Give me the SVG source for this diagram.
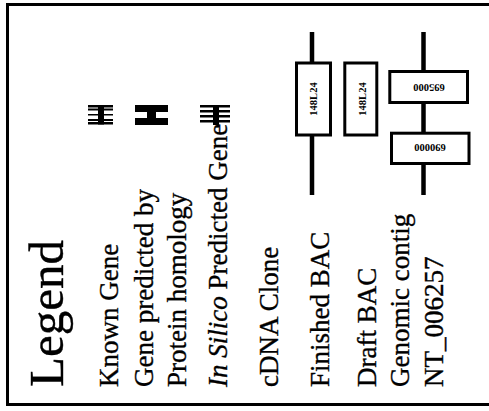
<svg xmlns="http://www.w3.org/2000/svg" width="489" height="411" viewBox="0 0 489 411">
<style>
.lbl{font-family:"Liberation Serif","Times New Roman",serif;font-size:27px;fill:#000;stroke:#000;stroke-width:0.35}
.ttl{font-family:"Liberation Serif","Times New Roman",serif;font-size:49px;fill:#000;stroke:#000;stroke-width:0.4}
.small{font-family:"Liberation Serif","Times New Roman",serif;font-size:10.5px;font-weight:bold;fill:#000;text-anchor:middle}
.box{fill:#fff;stroke:#000;stroke-width:3}
.chr{stroke:#000;stroke-width:4.5;fill:none}
.g{fill:#000}
</style>
<rect x="0" y="0" width="489" height="411" fill="#fff"/>
<path d="M489,4.5 H7.5 V404.5 H489" fill="none" stroke="#000" stroke-width="3"/>
<g id="title"><text class="ttl" transform="translate(63,387) rotate(-90)">Legend</text></g>
<g id="known-gene">
<text class="lbl" transform="translate(118,387) rotate(-90)">Known Gene</text>
<rect class="g" x="88" y="105" width="25" height="2.5"/>
<rect class="g" x="88" y="108.5" width="25" height="2"/>
<rect class="g" x="88" y="114" width="25" height="1.5"/>
<rect class="g" x="88" y="119" width="25" height="2"/>
<rect class="g" x="88" y="122" width="25" height="2.5"/>
<rect class="g" x="98" y="105" width="6" height="19.5"/>
</g>
<g id="protein-homology">
<text class="lbl" transform="translate(153,387) rotate(-90)">Gene predicted by</text>
<text class="lbl" transform="translate(186,387) rotate(-90)">Protein homology</text>
<rect class="g" x="135" y="105" width="33" height="7"/>
<rect class="g" x="135" y="118" width="33" height="7"/>
<rect class="g" x="147" y="105" width="9" height="20"/>
</g>
<g id="in-silico">
<text class="lbl" transform="translate(227,387) rotate(-90)"><tspan font-style="italic">In Silico</tspan> Predicted Gene</text>
<rect class="g" x="200" y="105" width="30" height="2.5"/>
<rect class="g" x="200" y="110" width="30" height="2.5"/>
<rect class="g" x="200" y="115" width="30" height="2.5"/>
<rect class="g" x="200" y="120" width="30" height="2.5"/>
<rect class="g" x="213" y="105" width="6" height="20"/>
</g>
<g id="cdna-clone"><text class="lbl" transform="translate(278,387) rotate(-90)">cDNA Clone</text></g>
<g id="finished-bac">
<text class="lbl" transform="translate(329,387) rotate(-90)">Finished BAC</text>
<line class="chr" x1="312" y1="32" x2="312" y2="195"/>
<rect class="box" x="296.5" y="63" width="34" height="72"/>
<text class="small" transform="translate(317,99) rotate(-90)">148L24</text>
</g>
<g id="draft-bac">
<text class="lbl" transform="translate(376,387) rotate(-90)">Draft BAC</text>
<rect class="box" x="344.8" y="63" width="32" height="72"/>
<text class="small" transform="translate(366,99) rotate(-90)">148L24</text>
</g>
<g id="genomic-contig">
<text class="lbl" transform="translate(409,387) rotate(-90)">Genomic contig</text>
<text class="lbl" transform="translate(443,387) rotate(-90)">NT_006257</text>
<line class="chr" x1="423.5" y1="32" x2="423.5" y2="195"/>
<rect class="box" x="389.8" y="71.5" width="77.7" height="31"/>
<rect class="box" x="391.5" y="133.2" width="77.5" height="30.3"/>
<text class="small" font-size="11.5" transform="translate(429,84) rotate(180)">695000</text>
<text class="small" font-size="11.5" transform="translate(430,144) rotate(180)">690000</text>
</g>
<g id="connectors"></g>
</svg>
